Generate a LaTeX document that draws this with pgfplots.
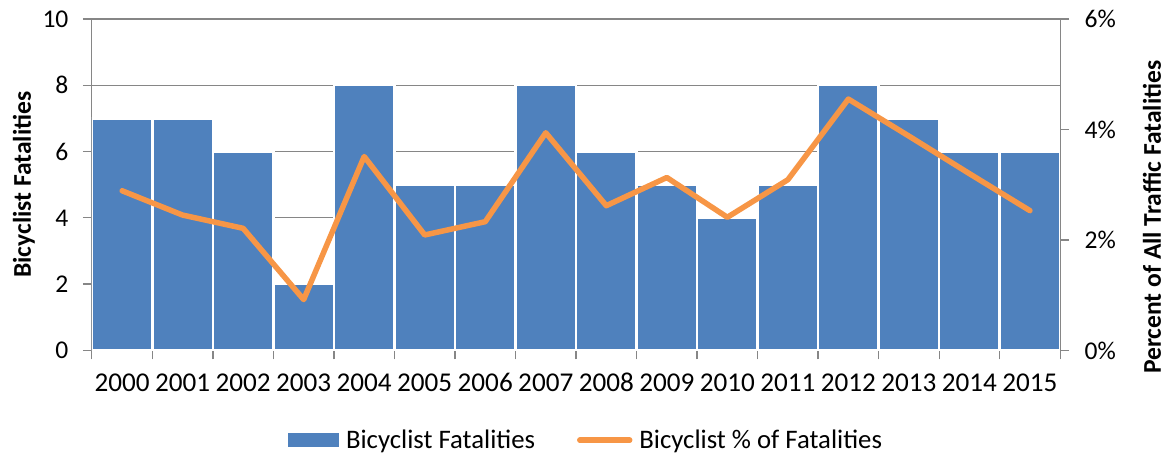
\documentclass[border=0pt]{standalone}
\usepackage{fontspec}
\setmainfont{Carlito}
\usepackage{pgfplots}
\usepackage{pgfplotstable}
\pgfplotsset{compat=1.18}

\definecolor{barblue}{HTML}{4F81BD}
\definecolor{lineorange}{HTML}{F79646}
\definecolor{axisgray}{HTML}{868686}

% x = position (0 = 2000), fat = bicyclist fatalities, pct = % of all traffic fatalities
\pgfplotstableread{
x  fat  pct
0  7    2.89
1  7    2.45
2  6    2.21
3  2    0.92
4  8    3.51
5  5    2.09
6  5    2.33
7  8    3.94
8  6    2.62
9  5    3.13
10 4    2.41
11 5    3.09
12 8    4.55
13 7    3.88
14 6    3.20
15 6    2.53
}\datatable

\pgfplotsset{
  common/.style={
    at={(0,0)}, anchor=south west,
    width=485pt, height=166pt, scale only axis,
    xmin=-0.5, xmax=15.5,
    axis line style={axisgray, line width=0.65pt},
    tick style={axisgray, line width=0.65pt},
    tick align=outside,
    major tick length=4.5pt, minor tick length=4.5pt,
    tick label style={font=\fontsize{12.8}{15}\selectfont, black},
    /pgf/number format/assume math mode=true,
  },
}

\begin{document}
\begin{tikzpicture}
\useasboundingbox (-46pt,-52.5pt) rectangle (539pt,175.5pt);

\begin{axis}[
  common,
  ymin=0, ymax=10,
  axis x line*=bottom, axis y line*=left,
  ytick={0,2,...,10},
  xtick={0,...,15},
  xticklabels={2000,2001,2002,2003,2004,2005,2006,2007,2008,2009,2010,2011,2012,2013,2014,2015},
  major x tick style={draw=none},
  minor xtick={-0.5,0.5,...,15.5},
  ymajorgrids,
  grid style={axisgray, line width=0.65pt},
  yticklabel style={xshift=-3.7pt},
  xticklabel style={yshift=-3.5pt, font=\fontsize{13.6}{15}\selectfont},
  ylabel={\bfseries Bicyclist Fatalities},
  ylabel style={at={(rel axis cs:0,0.5)}, anchor=center, yshift=34pt,
    font=\fontsize{12.8}{15}\selectfont},
]
\addplot[ybar, bar width=1, fill=barblue, draw=white, line width=1.2pt]
  table[x=x, y=fat]{\datatable};
\end{axis}

\begin{axis}[
  common,
  ymin=0, ymax=6,
  axis y line*=right, axis x line=none,
  ytick={0,2,4,6},
  yticklabel={\pgfmathprintnumber{\tick}\%},
  yticklabel style={xshift=4.2pt},
  ylabel={\bfseries Percent of All Traffic Fatalities},
  ylabel style={at={(rel axis cs:1,0.402)}, anchor=center, yshift=-46pt,
    font=\fontsize{12.8}{15}\selectfont},
  legend columns=2,
  legend style={at={(rel axis cs:0.511,-0.271)}, anchor=center, draw=none,
    fill=none, font=\fontsize{13.4}{15}\selectfont,
    nodes={inner sep=1.5pt},
    /tikz/every odd column/.append style={column sep=2pt},
    /tikz/every even column/.append style={column sep=19.5pt}},
]
\addlegendimage{legend image code/.code={\fill[barblue] (0pt,-3.25pt) rectangle (25pt,3.25pt);}}
\addlegendentry{Bicyclist Fatalities}
\addplot[lineorange, line width=2.75pt, line join=round, line cap=round, mark=none,
  legend image code/.code={\draw[lineorange, line width=2.75pt, line cap=round] (0pt,0pt) -- (25pt,0pt);}]
  table[x=x, y=pct]{\datatable};
\addlegendentry{Bicyclist \% of Fatalities}
\end{axis}
\end{tikzpicture}
\end{document}
